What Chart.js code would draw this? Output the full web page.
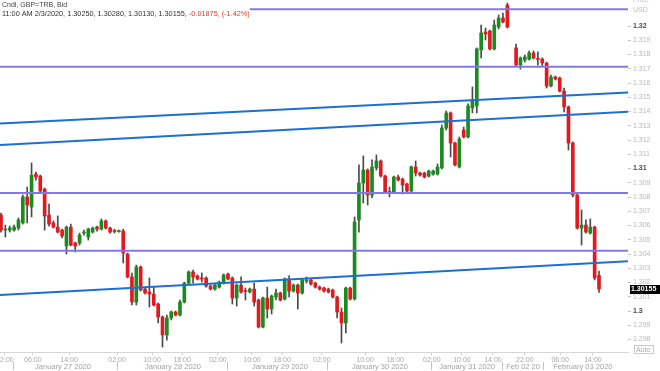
<!DOCTYPE html>
<html><head><meta charset="utf-8">
<script src="https://cdn.jsdelivr.net/npm/chart.js@4.4.1/dist/chart.umd.min.js"></script>
<style>html,body{margin:0;padding:0;background:#fff;overflow:hidden}#wrap{width:660px;height:371px;position:relative}</style>
</head><body><div id="wrap"><canvas id="c" width="660" height="371"></canvas></div>
<script>
// ---- DATA (hourly candles, GBP=TRB Bid) ----
const opens = [1.30674,1.30568,1.30568,1.30568,1.30582,1.30618,1.30800,1.30730,1.30961,1.30947,
1.30856,1.30674,1.30618,1.30589,1.30568,1.30456,1.30589,1.30477,1.30477,1.30547,
1.30519,1.30554,1.30589,1.30575,1.30632,1.30582,1.30561,1.30558,1.30561,1.30400,
1.30239,1.30063,1.30309,1.30154,1.30133,1.30119,1.30049,1.29958,1.29832,1.29951,
1.29993,1.29972,1.30063,1.30196,1.30274,1.30246,1.30232,1.30232,1.30175,1.30154,
1.30168,1.30196,1.30260,1.30232,1.30091,1.30182,1.30140,1.30133,1.30154,1.30077,
1.29888,1.30091,1.30014,1.30098,1.30126,1.30084,1.30218,1.30140,1.30182,1.30126,
1.30210,1.30218,1.30196,1.30168,1.30161,1.30154,1.30147,1.30098,1.29993,1.29916,
1.30161,1.30084,1.30639,1.30898,1.30989,1.30814,1.31004,1.31053,1.30947,1.30835,
1.30835,1.30940,1.30926,1.30891,1.30842,1.31011,1.30968,1.30968,1.30947,1.30961,
1.30961,1.31004,1.31284,1.31390,1.31179,1.31011,1.31270,1.31221,1.31425,1.31439,
1.31832,1.31958,1.31965,1.31839,1.31993,1.32056,1.32147,null,1.31846,1.31726,
1.31761,1.31768,1.31811,1.31768,1.31768,1.31740,1.31579,1.31642,1.31635,1.31544,
1.31432,1.31179,1.30814,1.30582,1.30603,1.30547,1.30589,1.30250];
const highs = [1.30688,1.30603,1.30596,1.30603,1.30653,1.30814,1.30870,1.31039,1.30975,1.30954,
1.30863,1.30751,1.30632,1.30667,1.30575,1.30596,1.30610,1.30484,1.30547,1.30568,
1.30582,1.30589,1.30596,1.30646,1.30639,1.30589,1.30575,1.30568,1.30575,1.30407,
1.30267,1.30323,1.30316,1.30161,1.30232,1.30168,1.30056,1.29965,1.29972,1.30000,
1.30000,1.30077,1.30203,1.30281,1.30288,1.30253,1.30267,1.30239,1.30182,1.30189,
1.30210,1.30260,1.30267,1.30239,1.30189,1.30239,1.30161,1.30161,1.30196,1.30084,
1.30098,1.30168,1.30112,1.30154,1.30133,1.30232,1.30246,1.30189,1.30189,1.30225,
1.30239,1.30225,1.30203,1.30175,1.30168,1.30161,1.30154,1.30105,1.30021,1.30168,
1.30168,1.30660,1.31025,1.31088,1.30997,1.31060,1.31095,1.31060,1.30954,1.30870,
1.30947,1.30954,1.30933,1.30898,1.31018,1.31053,1.30975,1.30975,1.30989,1.30989,
1.31032,1.31305,1.31404,1.31397,1.31186,1.31221,1.31291,1.31453,1.31572,1.31846,
1.32007,1.31986,1.31972,1.32042,1.32077,1.32091,1.32161,null,1.31874,1.31783,
1.31797,1.31825,1.31825,1.31818,1.31776,1.31747,1.31656,1.31649,1.31642,1.31565,
1.31439,1.31186,1.30821,1.30709,1.30639,1.30646,1.30596,1.30280];
const lows = [1.30554,1.30519,1.30554,1.30561,1.30568,1.30610,1.30618,1.30660,1.30919,1.30835,
1.30568,1.30596,1.30582,1.30547,1.30512,1.30400,1.30456,1.30414,1.30463,1.30533,
1.30498,1.30547,1.30561,1.30568,1.30575,1.30547,1.30547,1.30554,1.30337,1.30232,
1.30042,1.30042,1.30140,1.30119,1.30028,1.30035,1.29916,1.29747,1.29796,1.29937,
1.29965,1.29965,1.30056,1.30189,1.30196,1.30218,1.30203,1.30168,1.30147,1.30147,
1.30161,1.30189,1.30218,1.30049,1.30035,1.30126,1.30077,1.30126,1.30035,1.29881,
1.29881,1.29951,1.29979,1.30077,1.30070,1.30077,1.30098,1.30133,1.30014,1.30119,
1.30196,1.30182,1.30161,1.30147,1.30133,1.30126,1.30091,1.29951,1.29775,1.29846,
1.30077,1.30077,1.30554,1.30758,1.30744,1.30793,1.30989,1.30940,1.30828,1.30800,
1.30828,1.30912,1.30821,1.30835,1.30835,1.30947,1.30947,1.30933,1.30940,1.30954,
1.30954,1.30997,1.31270,1.31081,1.31018,1.31004,1.31214,1.31214,1.31390,1.31390,
1.31776,1.31902,1.31832,1.31832,1.31979,1.32021,1.31986,null,1.31719,1.31698,
1.31747,1.31761,1.31768,1.31726,1.31719,1.31565,1.31572,1.31621,1.31537,1.31397,
1.31130,1.30800,1.30575,1.30463,1.30547,1.30540,1.30218,1.30130];
const closes = [1.30568,1.30575,1.30582,1.30589,1.30639,1.30800,1.30744,1.30954,1.30940,1.30842,
1.30667,1.30610,1.30589,1.30554,1.30526,1.30589,1.30463,1.30456,1.30533,1.30554,
1.30575,1.30582,1.30575,1.30632,1.30582,1.30554,1.30558,1.30561,1.30407,1.30239,
1.30063,1.30309,1.30147,1.30126,1.30119,1.30042,1.29958,1.29832,1.29951,1.29993,
1.29972,1.30063,1.30196,1.30274,1.30239,1.30225,1.30225,1.30175,1.30154,1.30182,
1.30203,1.30253,1.30225,1.30091,1.30182,1.30133,1.30137,1.30154,1.30063,1.29888,
1.30091,1.30014,1.30105,1.30126,1.30077,1.30225,1.30140,1.30182,1.30126,1.30218,
1.30214,1.30189,1.30168,1.30154,1.30140,1.30133,1.30098,1.29993,1.29916,1.30161,
1.30084,1.30625,1.30898,1.30989,1.30814,1.31011,1.31053,1.30947,1.30835,1.30832,
1.30940,1.30919,1.30884,1.30842,1.31011,1.30968,1.30954,1.30940,1.30982,1.30982,
1.31011,1.31284,1.31390,1.31179,1.31025,1.31207,1.31221,1.31439,1.31481,1.31839,
1.31951,1.31944,1.31839,1.32007,1.32056,1.32028,1.31993,null,1.31726,1.31776,
1.31783,1.31811,1.31776,1.31765,1.31740,1.31579,1.31642,1.31628,1.31544,1.31432,
1.31179,1.30814,1.30582,1.30603,1.30554,1.30589,1.30232,1.30155];

// time axis labels (positions in candle-slot units)
const timeTickPos = [0.9,7.3,15.6,26.6,34.6,41.5,49.7,57.5,64.4,73.5,83.4,90.3,98.7,105.6,112.7,120.0,128.1,135.6];
const timeTickLabels = ["02:00","06:00","14:00","02:00","10:00","18:00","02:00","10:00","18:00","02:00","10:00","18:00","02:00","10:00","14:00","22:00","06:00","14:00"];
// date axis: labels and separators ('' = separator)
const dayTickPos = [2.75,14.2,26.8,39.4,51.8,63.9,74.9,86.8,98.7,106.8,115.0,119.6,124.2,133.3];
const dayTickLabels = ["","January 27 2020","","January 28 2020","","January 29 2020","","January 30 2020","","January 31 2020","","Feb 02 20","","February 03 2020"];
// price axis ticks
const yTickValues = [1.298,1.299,1.300,1.301,1.302,1.303,1.304,1.305,1.306,1.307,1.308,1.309,1.310,1.311,1.312,1.313,1.314,1.315,1.316,1.317,1.318,1.319,1.320];
// horizontal levels (start slot; null = from left edge)
const levelValues = [1.32117,1.31714,1.30828,1.30423];
const levelStarts = [57,null,null,null];
// trend lines: value at left edge and at right edge
const trendStartValues = [1.31316,1.31165,1.30112];
const trendEndValues = [1.31534,1.31399,1.30349];
// header text
const headerTitle = "Cndl, GBP=TRB, Bid";
const headerTime = "11:00 AM 2/3/2020";
const headerChange = "-0.01875, (-1.42%)";
const axisTitle = ["Price", "USD"];

// ---- scale extents ----
const X_MIN = -0.229, X_MAX = 143.64;
const Y_MIN = 1.297123, Y_MAX = 1.321825;
const FONT = '"Liberation Sans", Arial, sans-serif';
const GREEN = '#1b8a1f', RED = '#e2191e', WICK = '#4a4a4a';
const PURPLE = '#8379e6', BLUE = '#1c6fd4';

const bodyData = [], wickData = [], bodyColors = [];
for (let i = 0; i < opens.length; i++) {
  if (opens[i] == null) continue;
  bodyData.push({x: i, y: [opens[i], closes[i]]});
  wickData.push({x: i, y: [lows[i], highs[i]]});
  bodyColors.push(closes[i] >= opens[i] ? GREEN : RED);
}

const lineSets = [];
levelValues.forEach((v, k) => {
  const s = levelStarts[k] == null ? X_MIN : levelStarts[k];
  lineSets.push({type:'line', data:[{x:s,y:v},{x:X_MAX,y:v}], borderColor:PURPLE, borderWidth:2, pointRadius:0, order:0, xAxisID:'x', yAxisID:'y'});
});
trendStartValues.forEach((v, k) => {
  lineSets.push({type:'line', data:[{x:X_MIN,y:v},{x:X_MAX,y:trendEndValues[k]}], borderColor:BLUE, borderWidth:2, pointRadius:0, order:0, xAxisID:'x', yAxisID:'y'});
});

function isMajor(c) {
  if (!c || !c.tick) return false;
  const v = c.tick.value;
  return Math.abs(v * 100 - Math.round(v * 100)) < 1e-6;
}

const overlay = {
  id: 'overlay',
  afterDraw(chart) {
    const ctx = chart.ctx, ys = chart.scales.y;
    const n = closes.length - 1;
    ctx.save();
    ctx.font = '7px ' + FONT;
    ctx.textBaseline = 'alphabetic';
    ctx.textAlign = 'left';
    ctx.fillStyle = '#444';
    ctx.fillText(headerTitle, 2, 7);
    ctx.font = '7.3px ' + FONT;
    const t = headerTime + ', ' + [opens[n], highs[n], lows[n], closes[n]].map(v => v.toFixed(5)).join(', ') + ', ';
    ctx.fillStyle = '#333';
    ctx.fillText(t, 2, 16);
    const w = ctx.measureText(t).width;
    ctx.fillStyle = '#e03a2a';
    ctx.fillText(headerChange, 2 + w, 16);
    ctx.font = '7px ' + FONT;
    ctx.fillStyle = '#bcbcbc';
    ctx.fillText(axisTitle[0], 633, 2);
    ctx.fillText(axisTitle[1], 633, 12);
    const py = Math.round(ys.getPixelForValue(closes[n]));
    ctx.fillStyle = '#000';
    ctx.fillRect(630, py - 4, 30, 9);
    ctx.fillStyle = '#fff';
    ctx.font = 'bold 7px ' + FONT;
    ctx.textBaseline = 'middle';
    ctx.fillText(closes[n].toFixed(5), 631, py + 0.5);
    ctx.strokeStyle = '#c8c8c8';
    ctx.lineWidth = 1;
    ctx.strokeRect(634.5, 345.5, 19, 8);
    ctx.fillStyle = '#aaa';
    ctx.font = '7px ' + FONT;
    ctx.fillText('Auto', 636, 350);
    ctx.restore();
  }
};

function fitX(h) {
  return s => { s.height = h; s.paddingLeft = 0; s.paddingRight = 0; };
}

new Chart(document.getElementById('c'), {
  type: 'bar',
  data: {
    datasets: [
      ...lineSets,
      {type:'bar', data: bodyData, backgroundColor: bodyColors, barThickness: 3, grouped: false, minBarLength: 1, order: 1, borderWidth: 0, xAxisID:'x', yAxisID:'y'},
      {type:'bar', data: wickData, backgroundColor: WICK, barThickness: 1, grouped: false, order: 2, borderWidth: 0, xAxisID:'x', yAxisID:'y'}
    ]
  },
  options: {
    responsive: false,
    animation: false,
    devicePixelRatio: 1,
    layout: {padding: 0},
    plugins: {legend: {display: false}, tooltip: {enabled: false}},
    scales: {
      x: {
        type: 'linear', position: 'bottom', weight: 0, min: X_MIN, max: X_MAX, offset: false,
        grid: {offset: false, drawOnChartArea: false, drawTicks: true, tickLength: 3, tickColor: '#cfcfcf'},
        border: {display: true, color: '#d6d6d6'},
        ticks: {autoSkip: false, maxRotation: 0, minRotation: 0, padding: 1, color: '#a9a9a9',
          font: {size: 7, family: FONT}, callback: (v, i) => timeTickLabels[i]},
        afterBuildTicks: s => { s.ticks = timeTickPos.map(v => ({value: v})); },
        afterFit: fitX(10)
      },
      x2: {
        type: 'linear', position: 'bottom', weight: 1, min: X_MIN, max: X_MAX, offset: false,
        grid: {offset: false, drawOnChartArea: false, drawTicks: true, tickLength: 8,
          tickColor: c => (c && c.index != null && dayTickLabels[c.index] === '') ? '#c4c4c4' : 'rgba(0,0,0,0)'},
        border: {display: false},
        ticks: {autoSkip: false, maxRotation: 0, minRotation: 0, padding: -8, color: '#a3a3a3',
          font: {size: 7.5, family: FONT}, callback: (v, i) => dayTickLabels[i]},
        afterBuildTicks: s => { s.ticks = dayTickPos.map(v => ({value: v})); },
        afterFit: fitX(9)
      },
      y: {
        type: 'linear', position: 'right', min: Y_MIN, max: Y_MAX, beginAtZero: false,
        grid: {drawOnChartArea: false, drawTicks: true, tickLength: 3, tickColor: '#c4c4c4'},
        border: {display: false},
        ticks: {
          padding: 2,
          color: c => isMajor(c) ? '#4a4a4a' : '#b8b8b8',
          font: c => isMajor(c) ? {size: 7, weight: 'bold', family: FONT} : {size: 7, family: FONT},
          callback: v => String(Number(v.toFixed(3)))
        },
        afterBuildTicks: s => { s.ticks = yTickValues.map(v => ({value: v})); },
        afterFit: s => { s.width = 32; s.paddingTop = 0; s.paddingBottom = 0; }
      }
    }
  },
  plugins: [overlay]
});
</script>
</body></html>
